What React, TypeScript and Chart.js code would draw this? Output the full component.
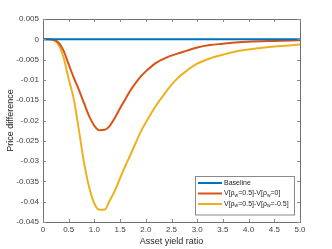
import React, { useEffect, useRef } from "react";
import { Chart, registerables } from "chart.js";

Chart.register(...registerables);

const xValues = [0, 0.1, 0.2, 0.3, 0.4, 0.5, 0.6, 0.7, 0.8, 0.9, 1.0, 1.1, 1.2, 1.3, 1.4, 1.5, 1.6, 1.7, 1.8, 1.9, 2.0, 2.2, 2.4, 2.6, 2.8, 3.0, 3.25, 3.5, 3.75, 4.0, 4.5, 5.0];
const baseline = [0, 0, 0, 0, 0, 0, 0, 0, 0, 0, 0, 0, 0, 0, 0, 0, 0, 0, 0, 0, 0, 0, 0, 0, 0, 0, 0, 0, 0, 0, 0, 0];
const diffRho0 = [0, 0, -0.0001, -0.0008, -0.0028, -0.0062, -0.0095, -0.0125, -0.0158, -0.019, -0.0213, -0.0224, -0.0223, -0.0213, -0.0193, -0.017, -0.0148, -0.0126, -0.0108, -0.0092, -0.0079, -0.0058, -0.0045, -0.0036, -0.0028, -0.002, -0.0014, -0.0011, -0.0008, -0.0006, -0.0004, -0.00025];
const diffRhoNeg = [0, 0, -0.0002, -0.0013, -0.0045, -0.0098, -0.0148, -0.0225, -0.0305, -0.0365, -0.0405, -0.042, -0.0419, -0.0397, -0.0372, -0.0342, -0.0312, -0.0285, -0.0256, -0.0228, -0.0205, -0.0163, -0.0128, -0.0098, -0.0077, -0.006, -0.0047, -0.0038, -0.003, -0.0025, -0.0018, -0.0013];

const seriesLabels = ["Baseline", "V[ρ_w=0.5]-V[ρ_w=0]", "V[ρ_w=0.5]-V[ρ_w=-0.5]"];
const seriesColors = ["#0072BD", "#D95319", "#EDB120"];
const xTitle = "Asset yield ratio";
const yTitle = "Price difference";
const FONT = "'Liberation Sans', Arial, sans-serif";

function drawRich(ctx: CanvasRenderingContext2D, text: string, x: number, y: number) {
  // "_w" => subscript w
  const parts = text.split("_w");
  let cx = x;
  parts.forEach((p, i) => {
    ctx.font = `7px ${FONT}`;
    ctx.fillText(p, cx, y);
    cx += ctx.measureText(p).width;
    if (i < parts.length - 1) {
      ctx.font = `5px ${FONT}`;
      ctx.fillText("w", cx, y + 2);
      cx += ctx.measureText("w").width;
    }
  });
}

const boxPlugin = {
  id: "boxPlugin",
  afterDatasetsDraw(chart: any) {
    const { ctx, chartArea: a, scales } = chart;
    ctx.save();
    ctx.strokeStyle = "#6e6e6e";
    ctx.lineWidth = 1;
    ctx.strokeRect(Math.round(a.left) + 0.5, Math.round(a.top) + 0.5, Math.round(a.right - a.left), Math.round(a.bottom - a.top));
    const tl = 3;
    ctx.strokeStyle = "#8a8a8a";
    ctx.beginPath();
    scales.x.ticks.forEach((t: any) => {
      const px = Math.round(scales.x.getPixelForValue(t.value)) + 0.5;
      ctx.moveTo(px, a.bottom);
      ctx.lineTo(px, a.bottom - tl);
      ctx.moveTo(px, a.top);
      ctx.lineTo(px, a.top + tl);
    });
    scales.y.ticks.forEach((t: any) => {
      const py = Math.round(scales.y.getPixelForValue(t.value)) + 0.5;
      ctx.moveTo(a.left, py);
      ctx.lineTo(a.left + tl, py);
      ctx.moveTo(a.right, py);
      ctx.lineTo(a.right - tl, py);
    });
    ctx.stroke();

    // legend
    const lx = 195.5, ly = 176.5, lw = 99, lh = 38.5;
    ctx.fillStyle = "#ffffff";
    ctx.fillRect(lx, ly, lw, lh);
    ctx.strokeStyle = "#8a8a8a";
    ctx.strokeRect(lx, ly, lw, lh);
    const rows = [183, 193.5, 204];
    seriesLabels.forEach((lab, i) => {
      ctx.strokeStyle = seriesColors[i];
      ctx.lineWidth = 2;
      ctx.beginPath();
      ctx.moveTo(198, rows[i]);
      ctx.lineTo(222, rows[i]);
      ctx.stroke();
      ctx.fillStyle = "#262626";
      ctx.textBaseline = "middle";
      ctx.textAlign = "left";
      drawRich(ctx, lab, 224, rows[i]);
    });
    ctx.restore();
  },
};

export default function App() {
  const ref = useRef<HTMLCanvasElement>(null);
  useEffect(() => {
    if (!ref.current) return;
    const mk = (vals: number[]) => xValues.map((x, i) => ({ x, y: vals[i] }));
    const chart = new Chart(ref.current, {
      type: "line",
      data: {
        datasets: [
          { label: seriesLabels[0], data: mk(baseline), borderColor: seriesColors[0], borderWidth: 2, pointRadius: 0, cubicInterpolationMode: "monotone" },
          { label: seriesLabels[1], data: mk(diffRho0), borderColor: seriesColors[1], borderWidth: 2, pointRadius: 0, cubicInterpolationMode: "monotone" },
          { label: seriesLabels[2], data: mk(diffRhoNeg), borderColor: seriesColors[2], borderWidth: 2, pointRadius: 0, cubicInterpolationMode: "monotone" },
        ],
      },
      options: {
        animation: false,
        responsive: false,
        devicePixelRatio: 1,
        layout: { padding: { top: 19, right: 32, left: 0, bottom: 0 } },
        plugins: { legend: { display: false }, tooltip: { enabled: false } },
        scales: {
          x: {
            type: "linear",
            min: 0,
            max: 5,
            grid: { display: false, drawTicks: false },
            border: { display: false },
            ticks: { stepSize: 0.5, padding: 3, maxRotation: 0, autoSkip: false, color: "#404040", font: { family: FONT, size: 8 } },
            title: { display: true, text: xTitle, color: "#262626", font: { family: FONT, size: 9 }, padding: { top: 0, bottom: 2 } },
            afterFit: (s: any) => { s.height = 27; },
          },
          y: {
            min: -0.045,
            max: 0.005,
            grid: { display: false, drawTicks: false },
            border: { display: false },
            ticks: {
              stepSize: 0.005,
              padding: 4,
              autoSkip: false,
              color: "#404040",
              font: { family: FONT, size: 8 },
              callback: (v: any) => String(parseFloat(Number(v).toFixed(3))),
            },
            title: { display: true, text: yTitle, color: "#262626", font: { family: FONT, size: 9 }, padding: { top: 5, bottom: 0 } },
            afterFit: (s: any) => { s.width = 43; },
          },
        },
      },
      plugins: [boxPlugin],
    } as any);
    return () => chart.destroy();
  }, []);
  return (
    <div style={{ position: "fixed", left: 0, top: 0, width: 332, height: 249, background: "#fff" }}>
      <canvas ref={ref} width={332} height={249} style={{ width: 332, height: 249 }} />
    </div>
  );
}
